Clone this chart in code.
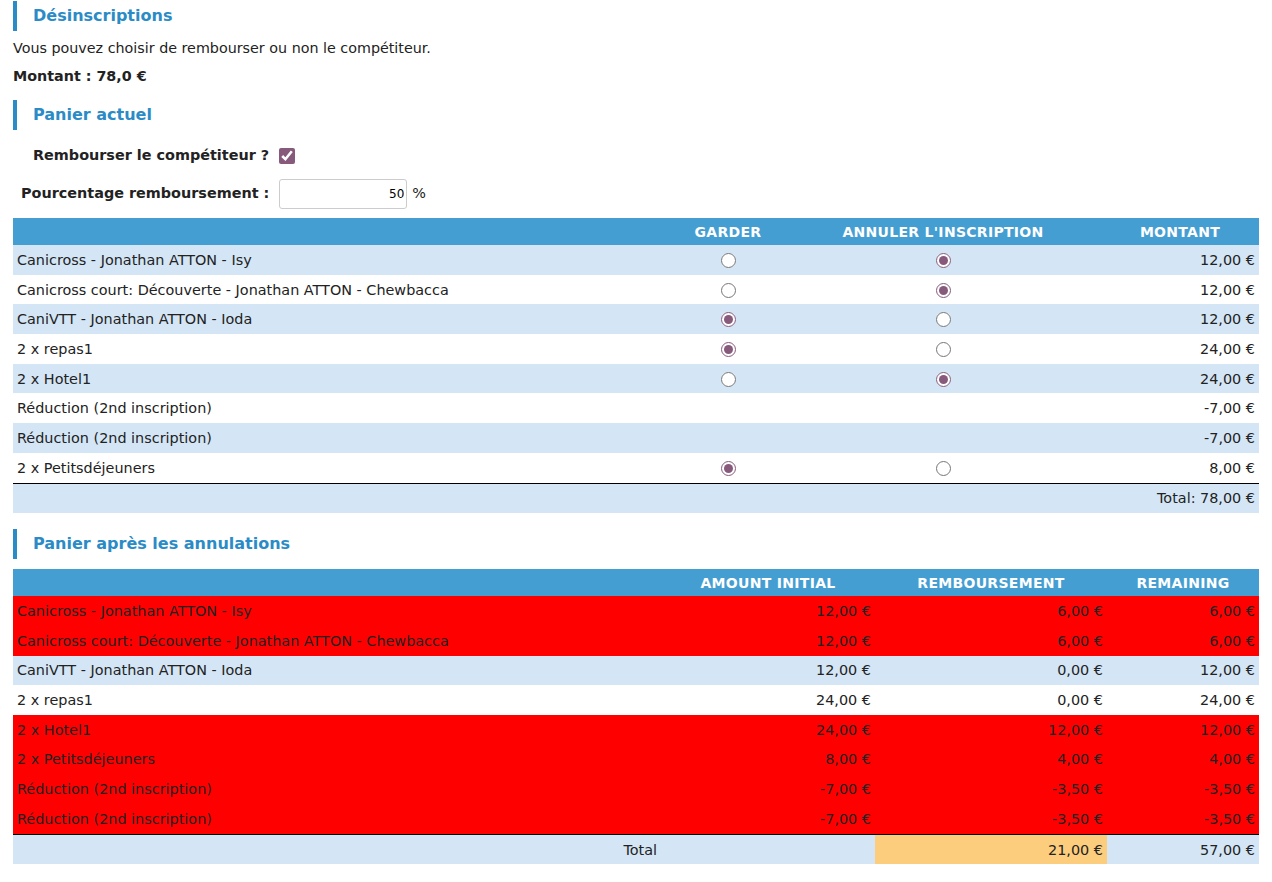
<!DOCTYPE html>
<html><head><meta charset="utf-8">
<script src="https://cdn.jsdelivr.net/npm/chart.js@4"></script>
<style>
body{margin:0;padding:0 13px;font-family:"DejaVu Sans",sans-serif;font-size:14.4px;color:#222;background:#fff}
h3{margin:0;border-left:4px solid #2b8bc6;padding-left:16px;color:#2b8bc6;font-size:16px;font-weight:bold;line-height:30px}
p{margin:0;font-size:14.3px}
table{width:1246px;border-collapse:collapse;table-layout:fixed}
th{background:#449ed2;color:#fff;font-weight:bold;height:27px;padding:0;font-size:14px;letter-spacing:.3px}
td{height:29.7px;padding:0 4px;white-space:nowrap}
tr.a td{background:#d4e6f6}
tr.red td{background:#ff0000}
.c{text-align:center}.r{text-align:right}
input[type=radio]{accent-color:#875a7b;margin:0;width:15px;height:15px;vertical-align:middle}
input[type=checkbox]{accent-color:#875a7b;margin:0;width:16px;height:16px;vertical-align:middle}
tr.tot td{border-top:1px solid #000;background:#d4e6f6}
</style></head><body>
<div style="height:1px"></div>
<h3>Désinscriptions</h3>
<p style="margin-top:9px">Vous pouvez choisir de rembourser ou non le compétiteur.</p>
<p style="margin-top:12px;font-weight:bold">Montant : 78,0 €</p>
<h3 style="margin-top:16px">Panier actuel</h3>
<div style="margin:17px 0 0 20px;font-weight:bold">Rembourser le compétiteur ? &nbsp;<input type="checkbox" checked></div>
<div style="margin:15px 0 0 8px;font-weight:bold">Pourcentage remboursement : &nbsp;<input type="text" id="pct" style="width:122px;height:26px;text-align:right;border:1px solid #ccc;border-radius:3px;font-family:inherit;font-size:12px;vertical-align:middle"> <span style="font-weight:normal">%</span></div>
<table id="t1" style="margin-top:9px"><colgroup><col style="width:658px"><col style="width:114px"><col style="width:316px"><col style="width:158px"></colgroup>
<tr><th></th><th>GARDER</th><th>ANNULER L'INSCRIPTION</th><th>MONTANT</th></tr></table>
<h3 style="margin-top:16px">Panier après les annulations</h3>
<table id="t2" style="margin-top:10px"><colgroup><col style="width:648px"><col style="width:214px"><col style="width:232px"><col style="width:152px"></colgroup>
<tr><th></th><th>AMOUNT INITIAL</th><th>REMBOURSEMENT</th><th>REMAINING</th></tr></table>
<script>
const pct = 50;
const cartLabels = ['Canicross - Jonathan ATTON - Isy','Canicross court: Découverte - Jonathan ATTON - Chewbacca','CaniVTT - Jonathan ATTON - Ioda','2 x repas1','2 x Hotel1','Réduction (2nd inscription)','Réduction (2nd inscription)','2 x Petitsdéjeuners'];
const cartKeep = [false,false,true,true,false,null,null,true];
const cartAmounts = [12,12,12,24,24,-7,-7,8];
const afterLabels = ['Canicross - Jonathan ATTON - Isy','Canicross court: Découverte - Jonathan ATTON - Chewbacca','CaniVTT - Jonathan ATTON - Ioda','2 x repas1','2 x Hotel1','2 x Petitsdéjeuners','Réduction (2nd inscription)','Réduction (2nd inscription)'];
const afterInitial = [12,12,12,24,24,8,-7,-7];
const afterRefund = [6,6,0,0,12,4,-3.5,-3.5];
const afterCancelled = [true,true,false,false,true,true,true,true];
const eur = v => v.toFixed(2).replace('.',',') + ' €';
document.getElementById('pct').value = pct;
const t1 = document.getElementById('t1');
cartLabels.forEach((l,i)=>{
  const k = cartKeep[i];
  const r = k===null ? ['',''] : [`<input type=radio name=r${i} ${k?'checked':''}>`,`<input type=radio name=r${i} ${k?'':'checked'}>`];
  t1.insertAdjacentHTML('beforeend',`<tr class="${i%2?'':'a'}"><td>${l}</td><td class=c>${r[0]}</td><td class=c>${r[1]}</td><td class=r>${eur(cartAmounts[i])}</td></tr>`);
});
t1.insertAdjacentHTML('beforeend',`<tr class=tot><td></td><td></td><td></td><td class=r>Total: ${eur(cartAmounts.reduce((a,b)=>a+b,0))}</td></tr>`);
const t2 = document.getElementById('t2');
let n=0;
afterLabels.forEach((l,i)=>{
  const cls = afterCancelled[i] ? 'red' : (n++%2?'':'a');
  t2.insertAdjacentHTML('beforeend',`<tr class="${cls}"><td>${l}</td><td class=r>${eur(afterInitial[i])}</td><td class=r>${eur(afterRefund[i])}</td><td class=r>${eur(afterInitial[i]-afterRefund[i])}</td></tr>`);
});
const ref = afterRefund.reduce((a,b)=>a+b,0), ini = afterInitial.reduce((a,b)=>a+b,0);
t2.insertAdjacentHTML('beforeend',`<tr class=tot><td class=r>Total</td><td></td><td class=r style="background:#fdcd7e">${eur(ref)}</td><td class=r>${eur(ini-ref)}</td></tr>`);
</script>
</body></html>
